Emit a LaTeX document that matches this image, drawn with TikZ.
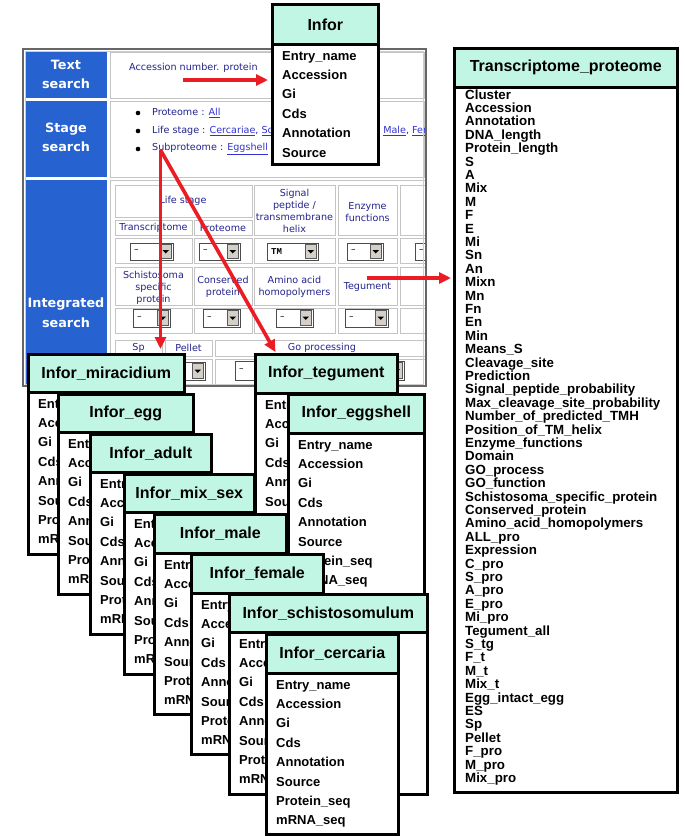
\documentclass[tikz,border=0pt]{standalone}
\usepackage{fontspec}
\setmainfont{Liberation Sans}
\newfontfamily\uifont{DejaVu Sans}
\newfontfamily\uimono{Liberation Mono}
\usetikzlibrary{arrows.meta,calc}

\definecolor{mint}{RGB}{194,246,228}
\definecolor{scrblue}{RGB}{38,98,208}
\definecolor{cellline}{RGB}{196,196,196}
\definecolor{uitext}{RGB}{35,35,140}
\definecolor{uilink}{RGB}{50,50,210}
\definecolor{arrred}{RGB}{236,28,36}
\definecolor{btn}{RGB}{212,208,200}

\tikzset{
 thdr/.style={draw=black, line width=2.6pt, fill=mint, inner sep=0pt, font=\bfseries\fontsize{16}{19}\selectfont, anchor=north west},
 tbody/.style={draw=black, line width=2.6pt, fill=white, inner sep=0pt, anchor=north west},
 trows/.style={inner sep=0pt, anchor=base west, font=\bfseries},
 redarrow/.style={draw=arrred, line width=3.6pt, -{Triangle[length=12pt,width=11pt]}},
 uilabel/.style={inner sep=0pt, text=uitext, font=\uifont\fontsize{9.6}{12}\selectfont, align=center},
 uiline/.style={inner sep=0pt, anchor=west, text=uitext, font=\uifont\fontsize{9.6}{12}\selectfont},
 cell/.style={draw=cellline, line width=0.8pt, fill=white},
 sidetext/.style={inner sep=0pt, text=white, font=\uifont\bfseries\fontsize{12.8}{19.5}\selectfont, align=center},
}

\newcommand\sixrows{Entry\_name\\Accession\\Gi\\Cds\\Annotation\\Source}
\newcommand\eightrows{\sixrows\\Protein\_seq\\mRNA\_seq}

% name, x, y, width, header height, body height, title, rows
\newcommand\dbtab[8]{%
 \node[tbody, minimum width=#4pt, minimum height=#6pt] (#1-b) at (#2,#3+#5) {};
 \node[thdr, minimum width=#4pt, minimum height=#5pt] (#1) at (#2,#3) {#7};
 \node[trows] (#1-r) at (#2+11,#3+#5+17) {\parbox[t]{5cm}{\raggedright\fontsize{13}{19.4}\selectfont #8}};
}

\newcounter{ddn}
\newcommand\dropdown[5]{%
 \stepcounter{ddn}%
 \draw[fill=white, draw=gray!60!black, line width=0.8pt] (#1,#2) rectangle (#3,#4);
 \draw[fill=btn, draw=gray!70!black, line width=0.6pt] (#3-13,#2+1.5) rectangle (#3-1.5,#4-1.5);
 \fill[black] (#3-10.5,{(#2+#4)/2-1.5}) -- (#3-4,{(#2+#4)/2-1.5}) -- (#3-7.25,{(#2+#4)/2+2}) -- cycle;
 \node[inner sep=0pt, anchor=west, font=\uifont\fontsize{9}{10}\selectfont] (dd\theddn) at (#1+4,{(#2+#4)/2}) {#5};
}

\begin{document}
\begin{tikzpicture}[x=1pt,y=-1pt]
\useasboundingbox (0,0) rectangle (685,836);
\fill[white] (0,0) rectangle (685,836);

% ---------- screenshot ----------
\begin{scope}
\clip (23,49) rectangle (426,386);
\fill[white] (23,49) rectangle (426,386);
\fill[scrblue] (25,52) rectangle (107,98);
\fill[scrblue] (25,101) rectangle (107,177);
\fill[scrblue] (25,180) rectangle (107,390);
\draw[cell] (110,52) rectangle (424,98);
\draw[cell] (110,101) rectangle (424,177);
\draw[cell] (110,180) rectangle (440,390);

\node[sidetext] (ts) at (66,74.5) {Text\\search};
\node[sidetext] (ss) at (66,137.5) {Stage\\search};
\node[sidetext] (is) at (66,312.5) {Integrated\\search};

\node[uiline] (acc) at (129,68) {Accession number. protein};

\fill[black] (138,113) circle (2.3);
\fill[black] (138,131) circle (2.3);
\fill[black] (138,149) circle (2.3);
\node[uiline] (stprot) at (152,113) {Proteome : \textcolor{uilink}{\underline{All}}};
\node[uiline] (stlife) at (152,131) {Life stage : \textcolor{uilink}{\underline{Cercariae}}, \textcolor{uilink}{\underline{Schistosomula}}};
\node[uiline] (stlife2) at (377,131) {, \textcolor{uilink}{\underline{Male}}, \textcolor{uilink}{\underline{Female}}};
\node[uiline] (stsub) at (152,149) {Subproteome : \textcolor{uilink}{\underline{Eggshell}}};

% integrated search table
\draw[cell] (115,185) rectangle (252,217);
\draw[cell] (115,220) rectangle (192,235);
\draw[cell] (194,220) rectangle (252,235);
\draw[cell] (254,185) rectangle (335,235);
\draw[cell] (338,185) rectangle (397,235);
\draw[cell] (400,185) rectangle (440,235);
\foreach \ya/\yb in {238/263, 267/305, 308/333}{
  \draw[cell] (115,\ya) rectangle (192,\yb);
  \draw[cell] (194,\ya) rectangle (252,\yb);
  \draw[cell] (254,\ya) rectangle (335,\yb);
  \draw[cell] (338,\ya) rectangle (397,\yb);
  \draw[cell] (400,\ya) rectangle (440,\yb);
}
\foreach \ya/\yb in {340/356, 359/385}{
  \draw[cell] (115,\ya) rectangle (162,\yb);
  \draw[cell] (165,\ya) rectangle (212,\yb);
  \draw[cell] (215,\ya) rectangle (440,\yb);
}
\node[uilabel] (lifest) at (183,201) {Life stage};
\node[uilabel] (transc) at (153.5,228) {Transcriptome};
\node[uilabel] (prote) at (223,228) {Proteome};
\node[uilabel] (sigp) at (294.5,211) {Signal\\peptide /\\transmembrane\\helix};
\node[uilabel] (enz) at (367.5,212) {Enzyme\\functions};
\node[uilabel] (schsp) at (153.5,288) {Schistosoma\\specific\\protein};
\node[uilabel] (cons) at (223,287) {Conserved\\protein};
\node[uilabel] (amino) at (294.5,287) {Amino acid\\homopolymers};
\node[uilabel] (tegl) at (367.5,287) {Tegument};
\node[uilabel] (spl) at (138.5,348) {Sp};
\node[uilabel] (pell) at (188.5,348) {Pellet};
\node[uilabel] (gop) at (322,348) {Go processing};

\dropdown{130}{243}{173}{260}{\textendash}
\dropdown{199}{243}{240}{260}{\textendash}
\dropdown{267}{243}{318}{260}{{\uimono\bfseries TM}}
\dropdown{347}{243}{383}{260}{\textendash}
\dropdown{415}{243}{450}{260}{\textendash}
\dropdown{133}{309}{170}{327}{\textendash}
\dropdown{203}{309}{240}{327}{\textendash}
\dropdown{276}{309}{313}{327}{\textendash}
\dropdown{345}{309}{388}{327}{\textendash}
\dropdown{172}{362}{205}{380}{\textendash}
\dropdown{235}{361}{404}{380}{\textendash}
\end{scope}
\draw[gray!80!black, line width=1.2pt] (23,49) rectangle (426,386);
\draw[gray!40, line width=0.8pt] (25,51.5) rectangle (423.5,384);

% ---------- tables ----------
\dbtab{infor}{271}{3}{106}{40}{120}{Infor}{\sixrows}

\node[tbody, minimum width=223pt, minimum height=705pt] (tp-b) at (453,86) {};
\node[thdr, minimum width=223pt, minimum height=39pt] (tp) at (453,47) {Transcriptome\_proteome};
\node[trows] (tp-r) at (465,99) {\parbox[t]{7cm}{\raggedright\fontsize{13.3}{13.4}\selectfont\lineskiplimit=-20pt
Cluster\\Accession\\Annotation\\DNA\_length\\Protein\_length\\S\\A\\Mix\\M\\F\\E\\Mi\\Sn\\An\\Mixn\\Mn\\Fn\\En\\Min\\Means\_S\\Cleavage\_site\\Prediction\\Signal\_peptide\_probability\\Max\_cleavage\_site\_probability\\Number\_of\_predicted\_TMH\\Position\_of\_TM\_helix\\Enzyme\_functions\\Domain\\GO\_process\\GO\_function\\Schistosoma\_specific\_protein\\Conserved\_protein\\Amino\_acid\_homopolymers\\ALL\_pro\\Expression\\C\_pro\\S\_pro\\A\_pro\\E\_pro\\Mi\_pro\\Tegument\_all\\S\_tg\\F\_t\\M\_t\\Mix\_t\\Egg\_intact\_egg\\ES\\Sp\\Pellet\\F\_pro\\M\_pro\\Mix\_pro}};

\dbtab{mira}{27}{353}{156}{38}{162}{Infor\_miracidium}{\eightrows}
\dbtab{egg}{57}{393}{135}{38}{162}{Infor\_egg}{\eightrows}
\dbtab{adult}{89}{433}{121}{38}{162}{Infor\_adult}{\eightrows}
\dbtab{mixsex}{123}{473}{130}{38}{162}{Infor\_mix\_sex}{\eightrows}
\dbtab{teg}{254}{353}{142}{39}{121}{Infor\_tegument}{\sixrows}
\dbtab{eggsh}{287}{393}{136}{39}{161}{Infor\_eggshell}{\eightrows}
\dbtab{male}{153}{513}{132}{39}{161}{Infor\_male}{\eightrows}
\dbtab{female}{190}{553}{132}{39}{161}{Infor\_female}{\eightrows}
\dbtab{schisto}{228}{593}{198}{38}{162}{Infor\_schistosomulum}{\eightrows}
\dbtab{cerc}{265}{633}{132}{39}{161}{Infor\_cercaria}{\eightrows}

% ---------- arrows ----------
\coordinate (accsrc) at (183,80);
\coordinate (subsrc) at (160.5,150);
\coordinate (tegsrc) at (367,278);
\coordinate (tegtop) at ($(teg.north west)+(22,0)$);
\draw[redarrow, shorten >=3pt] (accsrc) -- (accsrc -| infor-b.west);
\draw[redarrow, shorten >=4pt] (subsrc) -- (subsrc |- mira.north);
\draw[redarrow, shorten >=1pt] (subsrc) -- (tegtop);
\draw[redarrow, shorten >=2pt] (tegsrc) -- (tegsrc -| tp-b.west);
\end{tikzpicture}
\end{document}
